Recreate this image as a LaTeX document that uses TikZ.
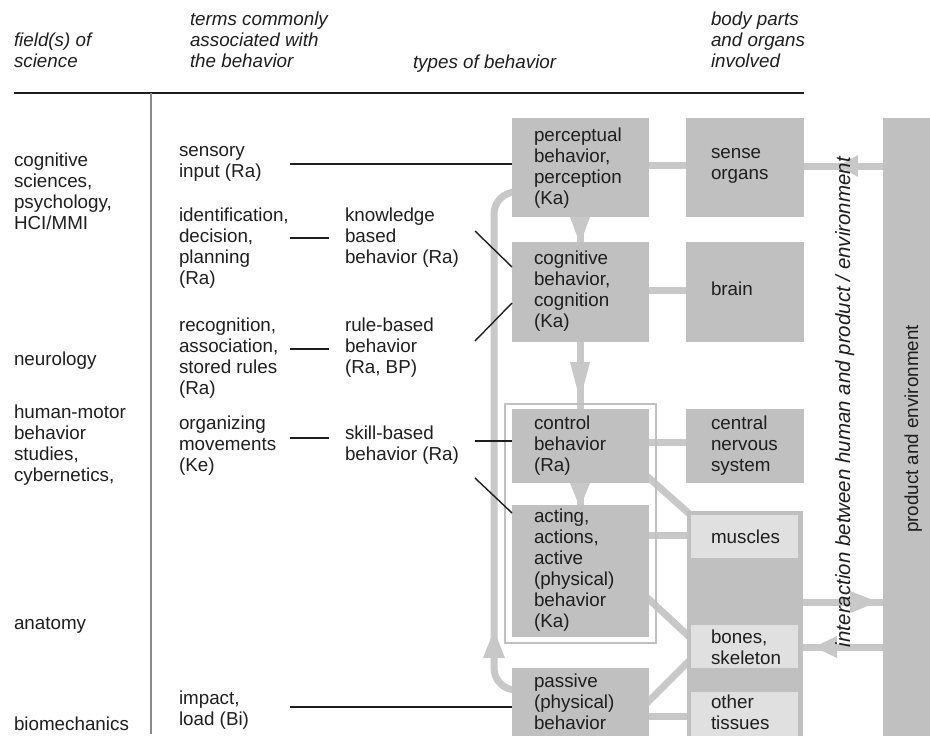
\documentclass[tikz,border=0pt]{standalone}
\usepackage{fontspec}
\setmainfont{Liberation Sans}
\definecolor{ink}{HTML}{1E1E1E}
\definecolor{boxgray}{HTML}{C0C0C0}
\definecolor{flowgray}{HTML}{C8C8C8}
\definecolor{palegray}{HTML}{E0E0E0}
\definecolor{rulegray}{HTML}{8A8A8A}
\newcommand{\mainfs}{\fontsize{18.8}{21}\selectfont}
\newcommand{\rotfs}{\fontsize{20.5}{24}\selectfont}
\tikzset{
  box/.style={fill=boxgray, draw=none, inner sep=0pt, outer sep=0pt, anchor=north west},
  palebox/.style={box, fill=palegray},
  txt/.style={anchor=north west, inner sep=0pt, outer sep=0pt, align=left,
    font=\mainfs, text=ink, yshift=14.7pt, execute at begin node=\strut},
  hdr/.style={txt, font=\mainfs\itshape},
  link/.style={draw=ink, line width=2.2pt},
  slant/.style={draw=ink, line width=1.4pt},
  flow/.style={draw=flowgray, line width=7pt},
  head/.style={fill=flowgray, draw=none},
}
\begin{document}
\begin{tikzpicture}[x=1pt,y=-1pt]
\useasboundingbox (0,0) rectangle (930,736);

% ---- header ----
\node[hdr] (hField) at (14,48) {field(s) of\\science};
\node[hdr] (hTerms) at (190,27) {terms commonly\\associated with\\the behavior};
\node[hdr] (hTypes) at (413,68) {types of behavior};
\node[hdr] (hBody) at (711,27) {body parts\\and organs\\involved};
\draw[ink, line width=1.2pt] (14,93) -- (804,93);
\draw[rulegray, line width=1.5pt] (151,93) -- (151,734);

% ---- fields of science ----
\node[txt] (fCog) at (14,168) {cognitive\\sciences,\\psychology,\\HCI/MMI};
\node[txt] (fNeu) at (14,365) {neurology};
\node[txt] (fMot) at (14,420) {human-motor\\behavior\\studies,\\cybernetics,};
\node[txt] (fAna) at (14,629) {anatomy};
\node[txt] (fBio) at (14,730) {biomechanics};

% ---- associated terms ----
\node[txt] (tSens) at (179,161) {sensory\\input (Ra)};
\node[txt] (tIdent) at (179,223) {identification,\\decision,\\planning\\(Ra)};
\node[txt] (tRecog) at (179,333) {recognition,\\association,\\stored rules\\(Ra)};
\node[txt] (tOrg) at (179,431) {organizing\\movements\\(Ke)};
\node[txt] (tImp) at (179,706) {impact,\\load (Bi)};

% ---- behavior levels ----
\node[txt] (kKnow) at (345,223) {knowledge\\based\\behavior (Ra)};
\node[txt] (kRule) at (345,333) {rule-based\\behavior\\(Ra, BP)};
\node[txt] (kSkill) at (345,441) {skill-based\\behavior (Ra)};

% ---- gray flow connectors (under the boxes) ----
\draw[flow] (512,192) [rounded corners=22pt] -- (494,192) -- (494,690) -- (512,690);
\fill[head] (483,658) -- (505,658) -- (494,630) -- cycle;
\draw[flow] (580,217) -- (580,242);
\fill[head] (570,217) -- (590,217) -- (580,244) -- cycle;
\draw[flow] (580,342) -- (580,409);
\fill[head] (570,362) -- (590,362) -- (580,400) -- cycle;
\draw[flow] (580,483) -- (580,505);
\fill[head] (570,483) -- (590,483) -- (580,508) -- cycle;
\draw[flow] (649,165) -- (686,165);
\draw[flow] (649,290) -- (686,290);
\draw[flow] (649,442) -- (686,442);
\draw[flow] (649,535) -- (687,535);
\draw[flow] (649,716) -- (687,716);
\draw[flow] (640,470) -- (694,518);
\draw[flow] (640,591) -- (696,643);
\draw[flow] (640,710) -- (696,654);
% exchange with product and environment
\draw[flow] (804,166) -- (883,166);
\fill[head] (858,155) -- (858,177) -- (838,166) -- cycle;
\draw[flow] (803,602) -- (883,602);
\fill[head] (850,591) -- (850,613) -- (878,602) -- cycle;
\draw[flow] (803,647) -- (883,647);
\fill[head] (837,636) -- (837,658) -- (814,647) -- cycle;

% frame around control and acting
\node[draw=boxgray, line width=1.3pt, inner sep=0pt, outer sep=0pt, anchor=north west,
  minimum width=151pt, minimum height=239pt] (frame) at (505,404) {};

% ---- behavior boxes ----
\node[box, minimum width=137pt, minimum height=99pt] (perc) at (512,118) {};
\node[box, minimum width=137pt, minimum height=100pt] (cogn) at (512,242) {};
\node[box, minimum width=137pt, minimum height=74pt] (ctrl) at (512,409) {};
\node[box, minimum width=137pt, minimum height=132pt] (act) at (512,505) {};
\node[box, minimum width=137pt, minimum height=68pt] (pass) at (512,668) {};

% ---- body part boxes ----
\node[box, minimum width=118pt, minimum height=99pt] (sense) at (686,118) {};
\node[box, minimum width=118pt, minimum height=100pt] (brain) at (686,242) {};
\node[box, minimum width=118pt, minimum height=74pt] (cns) at (686,409) {};
\node[box, minimum width=116pt, minimum height=225pt] (motor) at (687,511) {};
\node[palebox, minimum width=107pt, minimum height=43pt] (musc) at (691,515) {};
\node[palebox, minimum width=107pt, minimum height=43pt] (bones) at (691,625) {};
\node[palebox, minimum width=107pt, minimum height=44pt] (tiss) at (691,692) {};
\node[box, minimum width=47pt, minimum height=618pt] (prod) at (883,118) {};

% ---- box labels ----
\node[txt] (lPerc) at (534,143) {perceptual\\behavior,\\perception\\(Ka)};
\node[txt] (lCogn) at (534,266) {cognitive\\behavior,\\cognition\\(Ka)};
\node[txt] (lCtrl) at (534,431) {control\\behavior\\(Ra)};
\node[txt] (lAct) at (534,524) {acting,\\actions,\\active\\(physical)\\behavior\\(Ka)};
\node[txt] (lPass) at (534,689) {passive\\(physical)\\behavior};
\node[txt] (lSense) at (711,163) {sense\\organs};
\node[txt] (lBrain) at (711,295) {brain};
\node[txt] (lCns) at (711,431) {central\\nervous\\system};
\node[txt] (lMusc) at (711,543) {muscles};
\node[txt] (lBones) at (711,645) {bones,\\skeleton};
\node[txt] (lTiss) at (711,710) {other\\tissues};

\node[anchor=base, rotate=90, inner sep=0pt, font=\rotfs\itshape, text=ink] (inter)
  at (850,402) {interaction between human and product / environment};
\node[anchor=base, rotate=90, inner sep=0pt, font=\mainfs, text=ink] (lProd)
  at (918,429) {product and environment};

% ---- black links from terms to behaviors ----
\coordinate (sA) at (290,164);
\coordinate (sB) at (290,238);
\coordinate (sC) at (290,349);
\coordinate (sD) at (290,438);
\coordinate (sE) at (290,707);
\coordinate (eB) at (329,238);
\coordinate (eC) at (329,349);
\coordinate (eD) at (329,438);
\coordinate (kA) at (475,231);
\coordinate (kB) at (475,341);
\coordinate (kC) at (475,441);
\coordinate (kD) at (475,478);
\draw[link] (sA) -- (perc.west |- sA);
\draw[link] (sB) -- (eB);
\draw[link] (sC) -- (eC);
\draw[link] (sD) -- (eD);
\draw[link] (sE) -- (pass.west |- sE);
\draw[slant] (kA) -- (cogn.west |- 0,267);
\draw[slant] (kB) -- (cogn.west |- 0,303);
\draw[link] (kC) -- (ctrl.west |- kC);
\draw[slant] (kD) -- (act.west |- 0,513);
\end{tikzpicture}
\end{document}
